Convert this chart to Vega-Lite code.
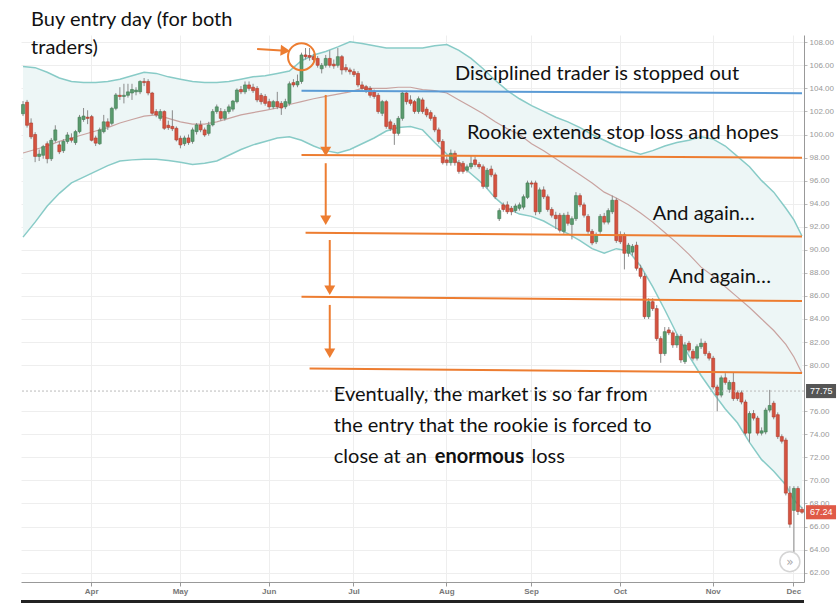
{
  "$schema": "https://vega.github.io/schema/vega-lite/v6.json",
  "width": 783,
  "height": 547,
  "autosize": {"type": "none"},
  "padding": {"left": 21, "top": 35, "right": 34, "bottom": 25},
  "background": "white",
  "datasets": {
    "candles": [
      {"d":"2014-03-07","o":101.8,"h":102.9,"l":101.6,"c":102.6},
      {"d":"2014-03-10","o":102.8,"h":103.0,"l":100.6,"c":100.8},
      {"d":"2014-03-11","o":101.0,"h":101.4,"l":99.6,"c":99.8},
      {"d":"2014-03-12","o":100.0,"h":100.2,"l":97.6,"c":98.1},
      {"d":"2014-03-13","o":98.1,"h":98.7,"l":97.7,"c":98.3},
      {"d":"2014-03-14","o":98.2,"h":99.1,"l":97.9,"c":98.95},
      {"d":"2014-03-17","o":99.2,"h":99.4,"l":97.5,"c":97.9},
      {"d":"2014-03-18","o":97.9,"h":99.7,"l":97.7,"c":99.5},
      {"d":"2014-03-19","o":99.5,"h":100.8,"l":99.3,"c":100.4},
      {"d":"2014-03-20","o":99.1,"h":99.4,"l":98.3,"c":98.5},
      {"d":"2014-03-21","o":98.6,"h":99.6,"l":98.4,"c":99.4},
      {"d":"2014-03-24","o":99.4,"h":100.2,"l":99.2,"c":99.96},
      {"d":"2014-03-25","o":99.7,"h":100.1,"l":99.3,"c":99.5},
      {"d":"2014-03-26","o":99.3,"h":100.4,"l":99.1,"c":100.25},
      {"d":"2014-03-27","o":100.25,"h":101.7,"l":100.1,"c":101.5},
      {"d":"2014-03-28","o":101.3,"h":102.3,"l":101.1,"c":101.6},
      {"d":"2014-03-31","o":101.5,"h":102.1,"l":100.9,"c":101.4},
      {"d":"2014-04-01","o":101.55,"h":101.7,"l":99.4,"c":99.5},
      {"d":"2014-04-02","o":99.7,"h":99.9,"l":99.0,"c":99.25},
      {"d":"2014-04-03","o":99.2,"h":100.6,"l":99.1,"c":100.4},
      {"d":"2014-04-04","o":100.25,"h":101.7,"l":100.1,"c":101.1},
      {"d":"2014-04-07","o":101.1,"h":101.4,"l":100.4,"c":100.7},
      {"d":"2014-04-08","o":100.97,"h":102.4,"l":100.8,"c":102.27},
      {"d":"2014-04-09","o":102.27,"h":103.6,"l":102.1,"c":103.43},
      {"d":"2014-04-10","o":103.4,"h":104.1,"l":103.0,"c":103.3},
      {"d":"2014-04-11","o":103.3,"h":104.4,"l":102.7,"c":103.4},
      {"d":"2014-04-14","o":103.4,"h":104.4,"l":103.2,"c":103.7},
      {"d":"2014-04-15","o":103.6,"h":104.4,"l":103.0,"c":103.9},
      {"d":"2014-04-16","o":103.7,"h":104.1,"l":103.4,"c":103.85},
      {"d":"2014-04-17","o":103.7,"h":104.7,"l":103.5,"c":104.6},
      {"d":"2014-04-18","o":104.6,"h":104.9,"l":104.2,"c":104.5},
      {"d":"2014-04-21","o":104.6,"h":104.8,"l":103.4,"c":103.6},
      {"d":"2014-04-22","o":103.6,"h":103.7,"l":101.7,"c":101.84},
      {"d":"2014-04-23","o":101.99,"h":102.2,"l":101.5,"c":101.7},
      {"d":"2014-04-24","o":101.4,"h":102.2,"l":101.2,"c":101.99},
      {"d":"2014-04-25","o":101.99,"h":102.1,"l":100.4,"c":100.54},
      {"d":"2014-04-28","o":100.8,"h":101.2,"l":100.4,"c":100.6},
      {"d":"2014-04-29","o":100.7,"h":102.1,"l":100.3,"c":100.5},
      {"d":"2014-04-30","o":100.54,"h":100.7,"l":99.4,"c":99.53},
      {"d":"2014-05-01","o":99.67,"h":99.9,"l":98.8,"c":99.1},
      {"d":"2014-05-02","o":99.2,"h":99.9,"l":99.0,"c":99.7},
      {"d":"2014-05-05","o":99.7,"h":100.0,"l":99.1,"c":99.3},
      {"d":"2014-05-06","o":99.4,"h":100.6,"l":99.2,"c":100.4},
      {"d":"2014-05-07","o":100.25,"h":101.0,"l":100.0,"c":100.83},
      {"d":"2014-05-08","o":100.83,"h":101.2,"l":100.2,"c":100.4},
      {"d":"2014-05-09","o":100.4,"h":100.6,"l":99.8,"c":99.96},
      {"d":"2014-05-12","o":100.1,"h":101.1,"l":99.9,"c":100.83},
      {"d":"2014-05-13","o":100.83,"h":102.2,"l":100.7,"c":101.99},
      {"d":"2014-05-14","o":101.99,"h":102.6,"l":101.8,"c":102.4},
      {"d":"2014-05-15","o":101.99,"h":102.3,"l":101.2,"c":101.4},
      {"d":"2014-05-16","o":101.4,"h":102.2,"l":101.2,"c":101.99},
      {"d":"2014-05-19","o":101.99,"h":102.6,"l":101.8,"c":102.4},
      {"d":"2014-05-20","o":102.2,"h":103.0,"l":102.0,"c":102.9},
      {"d":"2014-05-21","o":102.85,"h":104.0,"l":102.7,"c":103.86},
      {"d":"2014-05-22","o":103.9,"h":104.2,"l":103.5,"c":103.7},
      {"d":"2014-05-23","o":103.7,"h":104.6,"l":103.5,"c":104.3},
      {"d":"2014-05-26","o":104.3,"h":104.6,"l":103.8,"c":104.0},
      {"d":"2014-05-27","o":104.1,"h":104.4,"l":103.6,"c":103.8},
      {"d":"2014-05-28","o":104.0,"h":104.2,"l":102.8,"c":103.0},
      {"d":"2014-05-29","o":103.4,"h":103.6,"l":102.6,"c":102.85},
      {"d":"2014-05-30","o":103.3,"h":103.5,"l":102.5,"c":102.7},
      {"d":"2014-06-02","o":102.85,"h":103.1,"l":102.2,"c":102.4},
      {"d":"2014-06-03","o":102.4,"h":103.0,"l":102.2,"c":102.85},
      {"d":"2014-06-04","o":102.85,"h":103.7,"l":102.2,"c":102.4},
      {"d":"2014-06-05","o":102.7,"h":102.9,"l":101.7,"c":102.3},
      {"d":"2014-06-06","o":102.4,"h":103.1,"l":102.2,"c":102.85},
      {"d":"2014-06-09","o":102.7,"h":104.6,"l":102.5,"c":104.4},
      {"d":"2014-06-10","o":104.5,"h":104.8,"l":104.1,"c":104.3},
      {"d":"2014-06-11","o":104.3,"h":105.2,"l":104.1,"c":104.6},
      {"d":"2014-06-12","o":104.6,"h":107.1,"l":104.4,"c":106.9},
      {"d":"2014-06-13","o":106.9,"h":107.5,"l":106.5,"c":106.75},
      {"d":"2014-06-16","o":106.85,"h":107.5,"l":106.4,"c":106.7},
      {"d":"2014-06-17","o":106.75,"h":107.0,"l":106.2,"c":106.5},
      {"d":"2014-06-18","o":106.6,"h":106.8,"l":105.8,"c":106.0},
      {"d":"2014-06-19","o":105.7,"h":106.2,"l":105.3,"c":106.0},
      {"d":"2014-06-20","o":106.0,"h":106.9,"l":105.8,"c":106.6},
      {"d":"2014-06-23","o":106.6,"h":107.3,"l":105.8,"c":106.0},
      {"d":"2014-06-24","o":106.1,"h":106.5,"l":105.7,"c":105.95},
      {"d":"2014-06-25","o":106.0,"h":107.5,"l":105.8,"c":106.75},
      {"d":"2014-06-26","o":106.75,"h":106.9,"l":105.2,"c":105.6},
      {"d":"2014-06-27","o":105.8,"h":106.1,"l":105.4,"c":105.6},
      {"d":"2014-06-30","o":105.6,"h":105.8,"l":105.2,"c":105.45},
      {"d":"2014-07-01","o":105.45,"h":105.7,"l":105.0,"c":105.2},
      {"d":"2014-07-02","o":105.3,"h":105.5,"l":104.1,"c":104.3},
      {"d":"2014-07-03","o":104.3,"h":104.6,"l":103.8,"c":104.0},
      {"d":"2014-07-04","o":104.15,"h":104.3,"l":103.6,"c":103.86},
      {"d":"2014-07-07","o":104.0,"h":104.2,"l":103.2,"c":103.4},
      {"d":"2014-07-08","o":103.7,"h":103.9,"l":103.1,"c":103.3},
      {"d":"2014-07-09","o":103.4,"h":103.6,"l":101.8,"c":101.99},
      {"d":"2014-07-10","o":101.84,"h":103.0,"l":101.6,"c":102.85},
      {"d":"2014-07-11","o":102.85,"h":103.0,"l":100.5,"c":100.7},
      {"d":"2014-07-14","o":101.1,"h":101.3,"l":100.3,"c":100.5},
      {"d":"2014-07-15","o":100.8,"h":101.0,"l":99.1,"c":100.1},
      {"d":"2014-07-16","o":100.1,"h":101.6,"l":99.9,"c":101.4},
      {"d":"2014-07-17","o":101.4,"h":103.8,"l":101.2,"c":103.6},
      {"d":"2014-07-18","o":103.6,"h":103.8,"l":102.6,"c":102.85},
      {"d":"2014-07-21","o":103.0,"h":103.4,"l":102.5,"c":102.7},
      {"d":"2014-07-22","o":102.85,"h":103.0,"l":101.8,"c":102.0},
      {"d":"2014-07-23","o":102.0,"h":103.3,"l":101.8,"c":103.1},
      {"d":"2014-07-24","o":103.0,"h":103.2,"l":101.8,"c":102.0},
      {"d":"2014-07-25","o":102.2,"h":102.4,"l":101.5,"c":101.7},
      {"d":"2014-07-28","o":101.9,"h":102.1,"l":101.2,"c":101.4},
      {"d":"2014-07-29","o":101.5,"h":101.7,"l":100.2,"c":100.4},
      {"d":"2014-07-30","o":100.4,"h":100.6,"l":99.2,"c":99.4},
      {"d":"2014-07-31","o":99.4,"h":99.6,"l":97.4,"c":97.56},
      {"d":"2014-08-01","o":97.8,"h":98.1,"l":97.3,"c":97.56},
      {"d":"2014-08-04","o":97.56,"h":98.7,"l":97.3,"c":98.37},
      {"d":"2014-08-05","o":98.37,"h":98.6,"l":97.3,"c":97.56},
      {"d":"2014-08-06","o":97.56,"h":97.8,"l":96.6,"c":96.8},
      {"d":"2014-08-07","o":97.5,"h":97.7,"l":96.6,"c":96.8},
      {"d":"2014-08-08","o":96.9,"h":97.4,"l":96.7,"c":97.2},
      {"d":"2014-08-11","o":97.2,"h":98.2,"l":97.0,"c":97.5},
      {"d":"2014-08-12","o":97.8,"h":98.1,"l":97.2,"c":97.4},
      {"d":"2014-08-13","o":97.4,"h":97.6,"l":97.0,"c":97.2},
      {"d":"2014-08-14","o":97.2,"h":97.4,"l":95.3,"c":95.5},
      {"d":"2014-08-15","o":95.5,"h":97.1,"l":95.3,"c":96.9},
      {"d":"2014-08-18","o":97.0,"h":97.3,"l":96.3,"c":96.5},
      {"d":"2014-08-19","o":96.5,"h":96.7,"l":94.4,"c":94.6},
      {"d":"2014-08-20","o":92.7,"h":93.6,"l":92.5,"c":93.4},
      {"d":"2014-08-21","o":93.9,"h":94.1,"l":93.3,"c":93.5},
      {"d":"2014-08-22","o":93.9,"h":94.2,"l":93.1,"c":93.3},
      {"d":"2014-08-25","o":93.6,"h":93.8,"l":93.0,"c":93.3},
      {"d":"2014-08-26","o":93.4,"h":94.0,"l":93.2,"c":93.8},
      {"d":"2014-08-27","o":93.6,"h":94.1,"l":93.4,"c":93.9},
      {"d":"2014-08-28","o":93.7,"h":94.8,"l":93.5,"c":94.6},
      {"d":"2014-08-29","o":94.55,"h":96.0,"l":94.4,"c":95.8},
      {"d":"2014-09-01","o":95.8,"h":96.0,"l":95.4,"c":95.7},
      {"d":"2014-09-02","o":95.8,"h":96.0,"l":93.0,"c":93.3},
      {"d":"2014-09-03","o":93.3,"h":95.4,"l":93.1,"c":95.2},
      {"d":"2014-09-04","o":95.2,"h":95.5,"l":94.4,"c":94.6},
      {"d":"2014-09-05","o":94.6,"h":94.8,"l":93.3,"c":93.5},
      {"d":"2014-09-08","o":93.5,"h":93.7,"l":92.8,"c":93.0},
      {"d":"2014-09-09","o":93.0,"h":93.3,"l":91.8,"c":92.7},
      {"d":"2014-09-10","o":93.0,"h":93.2,"l":91.5,"c":91.7},
      {"d":"2014-09-11","o":91.6,"h":93.2,"l":91.4,"c":93.0},
      {"d":"2014-09-12","o":93.0,"h":93.3,"l":92.1,"c":92.3},
      {"d":"2014-09-15","o":92.2,"h":92.9,"l":90.9,"c":92.7},
      {"d":"2014-09-16","o":92.7,"h":95.0,"l":92.5,"c":94.7},
      {"d":"2014-09-17","o":94.7,"h":94.9,"l":93.7,"c":93.9},
      {"d":"2014-09-18","o":93.9,"h":94.1,"l":92.8,"c":93.0},
      {"d":"2014-09-19","o":92.9,"h":93.1,"l":91.4,"c":91.6},
      {"d":"2014-09-22","o":91.6,"h":91.8,"l":90.4,"c":90.6},
      {"d":"2014-09-23","o":90.7,"h":91.5,"l":90.5,"c":91.3},
      {"d":"2014-09-24","o":91.6,"h":93.1,"l":91.4,"c":92.9},
      {"d":"2014-09-25","o":92.9,"h":93.2,"l":92.2,"c":92.4},
      {"d":"2014-09-26","o":92.4,"h":93.6,"l":92.2,"c":93.4},
      {"d":"2014-09-29","o":93.3,"h":94.7,"l":93.1,"c":94.3},
      {"d":"2014-09-30","o":94.3,"h":94.5,"l":90.6,"c":90.8},
      {"d":"2014-10-01","o":91.3,"h":91.6,"l":90.5,"c":90.7},
      {"d":"2014-10-02","o":91.3,"h":91.5,"l":88.3,"c":89.7},
      {"d":"2014-10-03","o":89.7,"h":90.6,"l":89.4,"c":90.4},
      {"d":"2014-10-06","o":89.8,"h":90.5,"l":89.5,"c":90.3},
      {"d":"2014-10-07","o":90.4,"h":90.7,"l":88.2,"c":88.4},
      {"d":"2014-10-08","o":88.4,"h":88.7,"l":87.5,"c":87.7},
      {"d":"2014-10-09","o":87.7,"h":88.0,"l":84.0,"c":84.2},
      {"d":"2014-10-10","o":84.2,"h":85.8,"l":84.0,"c":85.5},
      {"d":"2014-10-13","o":85.5,"h":85.8,"l":84.7,"c":84.9},
      {"d":"2014-10-14","o":84.9,"h":85.2,"l":82.1,"c":82.3},
      {"d":"2014-10-15","o":82.3,"h":82.5,"l":80.2,"c":81.0},
      {"d":"2014-10-16","o":81.0,"h":83.3,"l":80.8,"c":82.9},
      {"d":"2014-10-17","o":83.05,"h":83.3,"l":82.6,"c":82.8},
      {"d":"2014-10-20","o":82.8,"h":83.0,"l":81.5,"c":81.75},
      {"d":"2014-10-21","o":81.75,"h":82.7,"l":81.5,"c":82.5},
      {"d":"2014-10-22","o":82.5,"h":82.7,"l":80.2,"c":80.45},
      {"d":"2014-10-23","o":80.3,"h":82.0,"l":80.1,"c":81.75},
      {"d":"2014-10-24","o":81.9,"h":82.1,"l":81.1,"c":81.3},
      {"d":"2014-10-27","o":81.2,"h":81.4,"l":80.4,"c":80.6},
      {"d":"2014-10-28","o":80.6,"h":81.8,"l":80.4,"c":81.6},
      {"d":"2014-10-29","o":81.6,"h":82.3,"l":81.4,"c":81.9},
      {"d":"2014-10-30","o":81.9,"h":82.1,"l":80.8,"c":81.0},
      {"d":"2014-10-31","o":81.0,"h":81.2,"l":80.4,"c":80.6},
      {"d":"2014-11-03","o":80.6,"h":80.8,"l":77.9,"c":78.1},
      {"d":"2014-11-04","o":78.1,"h":78.3,"l":76.0,"c":77.4},
      {"d":"2014-11-05","o":77.4,"h":79.1,"l":77.2,"c":78.9},
      {"d":"2014-11-06","o":78.9,"h":79.3,"l":78.3,"c":78.5},
      {"d":"2014-11-07","o":77.9,"h":78.7,"l":77.6,"c":78.5},
      {"d":"2014-11-10","o":78.5,"h":79.4,"l":76.9,"c":77.1},
      {"d":"2014-11-11","o":77.6,"h":77.8,"l":76.9,"c":77.1},
      {"d":"2014-11-12","o":77.6,"h":77.8,"l":76.6,"c":76.8},
      {"d":"2014-11-13","o":76.8,"h":77.0,"l":73.9,"c":74.1},
      {"d":"2014-11-14","o":74.1,"h":76.0,"l":73.3,"c":75.8},
      {"d":"2014-11-17","o":75.8,"h":76.1,"l":75.2,"c":75.4},
      {"d":"2014-11-18","o":75.4,"h":75.6,"l":73.9,"c":74.1},
      {"d":"2014-11-19","o":74.1,"h":74.6,"l":73.9,"c":74.3},
      {"d":"2014-11-20","o":74.2,"h":76.3,"l":74.0,"c":76.1},
      {"d":"2014-11-21","o":76.1,"h":77.85,"l":75.9,"c":76.5},
      {"d":"2014-11-24","o":76.7,"h":76.9,"l":75.3,"c":75.5},
      {"d":"2014-11-25","o":75.7,"h":75.9,"l":73.6,"c":73.8},
      {"d":"2014-11-26","o":73.8,"h":74.0,"l":73.2,"c":73.4},
      {"d":"2014-11-27","o":73.5,"h":73.7,"l":68.7,"c":68.9},
      {"d":"2014-11-28","o":68.9,"h":69.5,"l":65.9,"c":66.2},
      {"d":"2014-12-01","o":67.4,"h":69.5,"l":63.4,"c":69.3},
      {"d":"2014-12-02","o":69.3,"h":69.5,"l":67.0,"c":67.3},
      {"d":"2014-12-03","o":67.5,"h":67.7,"l":67.1,"c":67.24}
    ],
    "bands": [
      {"d":"2014-03-07","u":105.9,"m":98.4,"b":91.1},
      {"d":"2014-03-12","u":105.8,"m":98.7,"b":92.4},
      {"d":"2014-03-17","u":105.4,"m":99.0,"b":93.8},
      {"d":"2014-03-20","u":104.9,"m":99.4,"b":94.9},
      {"d":"2014-03-25","u":104.6,"m":99.7,"b":95.8},
      {"d":"2014-03-28","u":104.5,"m":100.0,"b":96.3},
      {"d":"2014-04-02","u":104.5,"m":100.3,"b":96.8},
      {"d":"2014-04-07","u":104.6,"m":100.6,"b":97.3},
      {"d":"2014-04-10","u":104.8,"m":101.0,"b":97.7},
      {"d":"2014-04-15","u":105.1,"m":101.3,"b":97.8},
      {"d":"2014-04-18","u":105.4,"m":101.6,"b":97.85},
      {"d":"2014-04-23","u":105.3,"m":101.7,"b":97.85},
      {"d":"2014-04-28","u":105.0,"m":101.4,"b":97.75},
      {"d":"2014-05-01","u":104.8,"m":101.1,"b":97.6},
      {"d":"2014-05-06","u":104.6,"m":100.9,"b":97.4},
      {"d":"2014-05-09","u":104.5,"m":100.9,"b":97.5},
      {"d":"2014-05-14","u":104.5,"m":101.1,"b":97.7},
      {"d":"2014-05-19","u":104.6,"m":101.4,"b":98.2},
      {"d":"2014-05-22","u":104.8,"m":101.7,"b":98.7},
      {"d":"2014-05-27","u":105.0,"m":101.9,"b":99.1},
      {"d":"2014-05-30","u":105.1,"m":102.1,"b":99.4},
      {"d":"2014-06-04","u":105.3,"m":102.3,"b":99.7},
      {"d":"2014-06-09","u":105.5,"m":102.6,"b":99.8},
      {"d":"2014-06-12","u":106.4,"m":102.85,"b":99.5},
      {"d":"2014-06-17","u":106.9,"m":103.1,"b":99.0},
      {"d":"2014-06-20","u":107.2,"m":103.3,"b":98.6},
      {"d":"2014-06-25","u":107.6,"m":103.5,"b":98.4},
      {"d":"2014-06-30","u":108.05,"m":103.7,"b":98.7},
      {"d":"2014-07-03","u":107.9,"m":104.0,"b":99.2},
      {"d":"2014-07-08","u":107.7,"m":104.0,"b":99.7},
      {"d":"2014-07-11","u":107.5,"m":104.0,"b":100.3},
      {"d":"2014-07-16","u":107.5,"m":104.1,"b":100.6},
      {"d":"2014-07-21","u":107.5,"m":104.1,"b":100.7},
      {"d":"2014-07-24","u":107.5,"m":103.9,"b":100.4},
      {"d":"2014-07-29","u":107.7,"m":103.8,"b":99.3},
      {"d":"2014-08-01","u":107.8,"m":103.6,"b":98.3},
      {"d":"2014-08-06","u":107.3,"m":103.0,"b":97.5},
      {"d":"2014-08-11","u":106.6,"m":102.4,"b":96.6},
      {"d":"2014-08-14","u":105.7,"m":101.8,"b":95.7},
      {"d":"2014-08-19","u":104.7,"m":101.1,"b":94.5},
      {"d":"2014-08-22","u":103.8,"m":100.5,"b":93.6},
      {"d":"2014-08-27","u":103.1,"m":100.0,"b":93.1},
      {"d":"2014-09-01","u":102.5,"m":99.2,"b":92.9},
      {"d":"2014-09-04","u":102.0,"m":98.6,"b":92.5},
      {"d":"2014-09-09","u":101.5,"m":97.9,"b":91.9},
      {"d":"2014-09-12","u":101.1,"m":97.2,"b":91.4},
      {"d":"2014-09-17","u":100.6,"m":96.5,"b":90.8},
      {"d":"2014-09-22","u":100.0,"m":95.8,"b":90.1},
      {"d":"2014-09-25","u":99.5,"m":95.0,"b":89.7},
      {"d":"2014-09-30","u":99.0,"m":94.5,"b":90.1},
      {"d":"2014-10-03","u":98.6,"m":93.9,"b":89.9},
      {"d":"2014-10-08","u":98.3,"m":93.2,"b":88.6},
      {"d":"2014-10-13","u":98.6,"m":92.4,"b":86.8},
      {"d":"2014-10-16","u":99.0,"m":91.5,"b":84.8},
      {"d":"2014-10-21","u":99.3,"m":90.6,"b":82.7},
      {"d":"2014-10-24","u":99.5,"m":89.6,"b":80.8},
      {"d":"2014-10-29","u":99.8,"m":88.5,"b":79.1},
      {"d":"2014-11-03","u":99.6,"m":87.7,"b":77.6},
      {"d":"2014-11-06","u":99.0,"m":86.8,"b":76.2},
      {"d":"2014-11-11","u":98.1,"m":85.9,"b":75.0},
      {"d":"2014-11-14","u":97.2,"m":85.0,"b":73.3},
      {"d":"2014-11-19","u":96.0,"m":84.0,"b":71.8},
      {"d":"2014-11-24","u":95.0,"m":83.0,"b":70.8},
      {"d":"2014-11-27","u":93.6,"m":81.8,"b":69.6},
      {"d":"2014-12-01","u":92.6,"m":80.7,"b":68.3},
      {"d":"2014-12-03","u":91.2,"m":79.3,"b":67.6}
    ],
    "notes": [
      {"d":"2014-03-11","p":109.93,"t":"Buy entry day (for both"},
      {"d":"2014-03-11","p":107.51,"t":"traders)"},
      {"d":"2014-08-05","p":105.25,"t":"Disciplined trader is stopped out"},
      {"d":"2014-08-08","p":100.13,"t":"Rookie extends stop loss and hopes"},
      {"d":"2014-10-13","p":93.11,"t":"And again…"},
      {"d":"2014-10-17","p":87.64,"t":"And again…"},
      {"d":"2014-06-24","p":77.41,"t":"Eventually, the market is so far from"},
      {"d":"2014-06-24","p":74.72,"t":"the entry that the rookie is forced to"},
      {"d":"2014-06-24","p":72.03,"t":"close at an"},
      {"d":"2014-09-01","p":72.03,"t":"loss"}
    ]
  },
  "layer": [
    {
      "data": {"name": "bands"},
      "mark": {"type": "area", "color": "#edf6f6"},
      "encoding": {
        "x": {
          "field": "d", "type": "ordinal", "title": null,
          "scale": {"type": "band", "paddingInner": 0.25, "paddingOuter": 0.125},
          "axis": {
            "values": ["2014-04-01","2014-05-01","2014-06-02","2014-07-01","2014-08-01","2014-09-01","2014-10-01","2014-11-03","2014-12-01"],
            "labelExpr": "utcFormat(toDate(datum.value), '%b')",
            "labelAngle": 0, "grid": true, "gridColor": "#eeeeee",
            "domainColor": "#999999", "tickColor": "#999999", "tickSize": 4,
            "labelColor": "#777777", "labelFontSize": 8, "labelFontWeight": "bold",
            "labelPadding": 1
          }
        },
        "y": {
          "field": "u", "type": "quantitative", "title": null,
          "scale": {"domain": [61.19, 108.63], "nice": false, "zero": false},
          "axis": {
            "orient": "right",
            "values": [62,64,66,68,70,72,74,76,80,82,84,86,88,90,92,94,96,98,100,102,104,106,108],
            "tickCount": 40,
            "format": ".2f", "grid": true, "gridColor": "#eeeeee",
            "labelOverlap": false,
            "domainColor": "#999999", "tickColor": "#bbbbbb", "tickSize": 3,
            "labelColor": "#999999", "labelFontSize": 8, "labelPadding": 2
          }
        },
        "y2": {"field": "b"}
      }
    },
    {
      "data": {"name": "bands"},
      "mark": {"type": "line", "color": "#88cbc7", "strokeWidth": 1.5},
      "encoding": {
        "x": {"field": "d", "type": "ordinal"},
        "y": {"field": "u", "type": "quantitative", "title": null}
      }
    },
    {
      "data": {"name": "bands"},
      "mark": {"type": "line", "color": "#88cbc7", "strokeWidth": 1.5},
      "encoding": {
        "x": {"field": "d", "type": "ordinal"},
        "y": {"field": "b", "type": "quantitative", "title": null}
      }
    },
    {
      "data": {"name": "bands"},
      "mark": {"type": "line", "color": "#c9a3a0", "strokeWidth": 1.2},
      "encoding": {
        "x": {"field": "d", "type": "ordinal"},
        "y": {"field": "m", "type": "quantitative", "title": null}
      }
    },
    {
      "data": {"name": "candles"},
      "mark": {"type": "rule", "color": "#8a8a8a", "strokeWidth": 1},
      "encoding": {
        "x": {"field": "d", "type": "ordinal"},
        "y": {"field": "l", "type": "quantitative", "title": null},
        "y2": {"field": "h"}
      }
    },
    {
      "data": {"name": "candles"},
      "mark": {"type": "bar", "strokeWidth": 0.6},
      "encoding": {
        "x": {"field": "d", "type": "ordinal"},
        "y": {"field": "o", "type": "quantitative", "title": null},
        "y2": {"field": "c"},
        "color": {"condition": {"test": "datum.c >= datum.o", "value": "#5a9b6e"}, "value": "#d65340"},
        "stroke": {"condition": {"test": "datum.c >= datum.o", "value": "#3f7a52"}, "value": "#ac3a2c"}
      }
    },
    {
      "data": {"values": [{"p": 77.75}]},
      "mark": {"type": "rule", "color": "#bbbbbb", "strokeWidth": 1, "strokeDash": [2, 2]},
      "encoding": {"y": {"field": "p", "type": "quantitative", "title": null}}
    },
    {
      "data": {"values": [{"d":"2014-06-12","d2":"2014-12-03","p":103.8,"p2":103.58}]},
      "mark": {"type": "rule", "color": "#5b9bd5", "strokeWidth": 2},
      "encoding": {
        "x": {"field": "d", "type": "ordinal"},
        "x2": {"field": "d2"},
        "y": {"field": "p", "type": "quantitative", "title": null},
        "y2": {"field": "p2"}
      }
    },
    {
      "data": {"values": [
        {"d":"2014-06-12","d2":"2014-12-03","p":98.23,"p2":97.99},
        {"d":"2014-06-13","d2":"2014-12-03","p":91.49,"p2":91.15},
        {"d":"2014-06-12","d2":"2014-12-03","p":85.93,"p2":85.56},
        {"d":"2014-06-16","d2":"2014-12-03","p":79.71,"p2":79.32},
        {"d":"2014-05-28","d2":"2014-06-05","p":107.42,"p2":107.29}
      ]},
      "mark": {"type": "rule", "color": "#ed7d31", "strokeWidth": 2},
      "encoding": {
        "x": {"field": "d", "type": "ordinal"},
        "x2": {"field": "d2"},
        "y": {"field": "p", "type": "quantitative", "title": null},
        "y2": {"field": "p2"}
      }
    },
    {
      "data": {"values": [
        {"d":"2014-06-20","p":103.43,"p2":98.53},
        {"d":"2014-06-20","p":97.51,"p2":92.57},
        {"d":"2014-06-23","p":90.85,"p2":86.5},
        {"d":"2014-06-23","p":85.22,"p2":81.03}
      ]},
      "mark": {"type": "rule", "color": "#ed7d31", "strokeWidth": 2},
      "encoding": {
        "x": {"field": "d", "type": "ordinal"},
        "y": {"field": "p", "type": "quantitative", "title": null},
        "y2": {"field": "p2"}
      }
    },
    {
      "data": {"values": [
        {"d":"2014-06-20","p":98.53},
        {"d":"2014-06-20","p":92.57},
        {"d":"2014-06-23","p":86.5},
        {"d":"2014-06-23","p":81.03}
      ]},
      "mark": {"type": "point", "shape": "triangle-down", "size": 121, "filled": true, "color": "#ed7d31", "opacity": 1},
      "encoding": {
        "x": {"field": "d", "type": "ordinal"},
        "y": {"field": "p", "type": "quantitative", "title": null}
      }
    },
    {
      "data": {"values": [{"d":"2014-06-06","p":107.27}]},
      "mark": {"type": "point", "shape": "triangle-right", "size": 121, "angle": 4, "filled": true, "color": "#ed7d31", "opacity": 1},
      "encoding": {
        "x": {"field": "d", "type": "ordinal"},
        "y": {"field": "p", "type": "quantitative", "title": null}
      }
    },
    {
      "data": {"values": [{"d":"2014-06-12","p":106.75}]},
      "mark": {"type": "point", "shape": "circle", "size": 729, "filled": false, "stroke": "#ed7d31", "strokeWidth": 2, "opacity": 1},
      "encoding": {
        "x": {"field": "d", "type": "ordinal"},
        "y": {"field": "p", "type": "quantitative", "title": null}
      }
    },
    {
      "data": {"name": "notes"},
      "mark": {"type": "text", "align": "left", "baseline": "middle", "font": "Lato", "fontSize": 20, "color": "#111111"},
      "encoding": {
        "x": {"field": "d", "type": "ordinal"},
        "y": {"field": "p", "type": "quantitative", "title": null},
        "text": {"field": "t"}
      }
    },
    {
      "data": {"values": [{"d":"2014-07-29","p":72.03,"t":"enormous"}]},
      "mark": {"type": "text", "align": "left", "baseline": "middle", "font": "Lato", "fontSize": 20, "fontWeight": "bold", "color": "#111111"},
      "encoding": {
        "x": {"field": "d", "type": "ordinal"},
        "y": {"field": "p", "type": "quantitative", "title": null},
        "text": {"field": "t"}
      }
    },
    {
      "data": {"values": [{"d":"2014-12-03","p":77.75,"t":"77.75"},{"d":"2014-12-03","p":67.24,"t":"67.24"}]},
      "mark": {"type": "point", "shape": "M0.27,-0.47H2.27V0.47H0.27Z", "size": 900, "filled": true, "opacity": 1},
      "encoding": {
        "x": {"field": "d", "type": "ordinal"},
        "y": {"field": "p", "type": "quantitative", "title": null},
        "color": {"condition": {"test": "datum.p > 70", "value": "#555555"}, "value": "#e05a47"}
      }
    },
    {
      "data": {"values": [{"d":"2014-12-03","p":77.75,"t":"77.75"},{"d":"2014-12-03","p":67.24,"t":"67.24"}]},
      "mark": {"type": "text", "align": "left", "baseline": "middle", "dx": 8, "font": "Liberation Sans", "fontSize": 9, "color": "white"},
      "encoding": {
        "x": {"field": "d", "type": "ordinal"},
        "y": {"field": "p", "type": "quantitative", "title": null},
        "text": {"field": "t"}
      }
    },
    {
      "data": {"values": [{"d":"2014-11-28","p":62.95,"t":"»"}]},
      "mark": {"type": "point", "shape": "circle", "size": 400, "filled": true, "fill": "white", "stroke": "#d5d5d5", "strokeWidth": 1.5, "opacity": 1},
      "encoding": {
        "x": {"field": "d", "type": "ordinal"},
        "y": {"field": "p", "type": "quantitative", "title": null}
      }
    },
    {
      "data": {"values": [{"d":"2014-11-28","p":62.95,"t":"»"}]},
      "mark": {"type": "text", "align": "center", "baseline": "middle", "font": "DejaVu Sans", "fontSize": 12, "color": "#aaaaaa"},
      "encoding": {
        "x": {"field": "d", "type": "ordinal"},
        "y": {"field": "p", "type": "quantitative", "title": null},
        "text": {"field": "t"}
      }
    },
    {
      "data": {"values": [{"p": 59.5}]},
      "mark": {"type": "rule", "color": "#222222", "strokeWidth": 3},
      "encoding": {"y": {"field": "p", "type": "quantitative", "title": null}}
    }
  ],
  "config": {
    "view": {"stroke": null},
    "axis": {"labelFont": "Liberation Sans"},
    "text": {"font": "Lato"}
  }
}
